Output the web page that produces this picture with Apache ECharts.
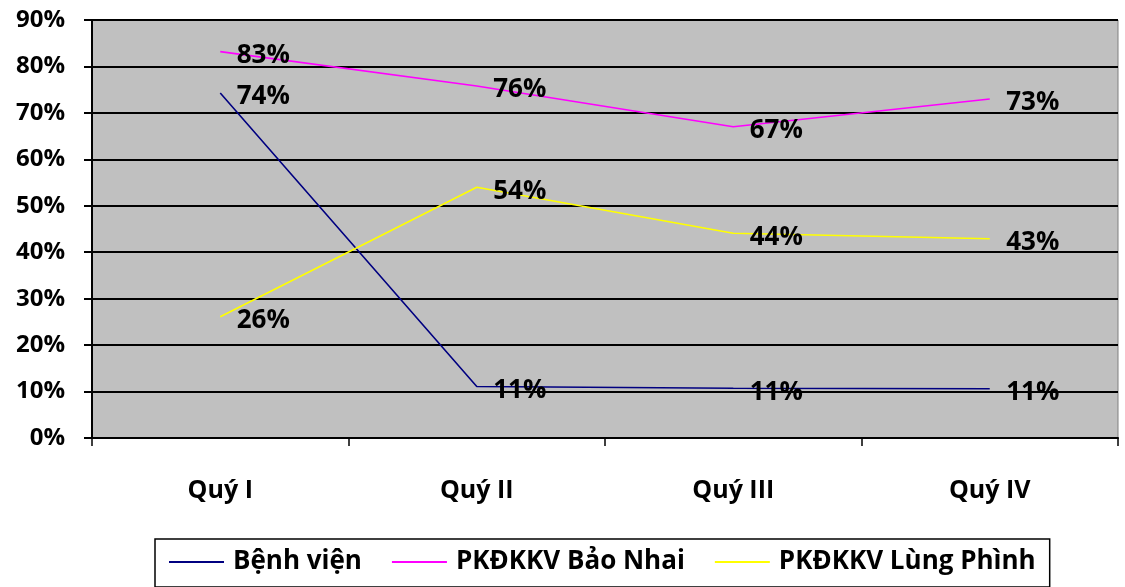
<!DOCTYPE html>
<html><head><meta charset="utf-8">
<script src="https://cdn.jsdelivr.net/npm/echarts@6/dist/echarts.min.js"></script>
<style>html,body{margin:0;padding:0;background:#fff}#c{width:1125px;height:587px}</style>
</head><body><div id="c"></div>
<script>
const categories = ['Quý I', 'Quý II', 'Quý III', 'Quý IV'];
const benhVien = [74.3, 11.1, 10.7, 10.6];
const baoNhai = [83.2, 75.8, 67.0, 73.0];
const lungPhinh = [26.1, 54.0, 44.1, 42.9];
const yTicks = [0, 10, 20, 30, 40, 50, 60, 70, 80, 90];
const names = ['Bệnh viện', 'PKĐKKV Bảo Nhai', 'PKĐKKV Lùng Phình'];
const colors = ['#000080', '#ff00ff', '#ffff00'];
const FONT = '"Open Sans", "Noto Sans", sans-serif';

const chart = echarts.init(document.getElementById('c'));
function mk(name, data, color) {
  return {
    name, type: 'line', data, symbol: 'circle', symbolSize: 1, showSymbol: true,
    lineStyle: { color, width: 1.6 }, itemStyle: { color, opacity: 0 },
    label: {
      show: true, position: 'right', offset: [11, 4],
      formatter: p => Math.round(p.value) + '%',
      fontFamily: FONT, fontWeight: 'bold', fontSize: 26, color: '#000', opacity: 1
    },
    emphasis: { disabled: true },
    animation: false
  };
}
chart.setOption({
  animation: false,
  grid: { left: 92, right: 7, top: 20, bottom: 149, show: true, backgroundColor: '#c0c0c0', borderColor: '#808080', borderWidth: 1 },
  xAxis: {
    type: 'category', data: categories, boundaryGap: true,
    axisLine: { lineStyle: { color: '#000', width: 2 } },
    axisTick: { show: true, length: 8, lineStyle: { color: '#000', width: 1.5 } },
    axisLabel: { fontFamily: FONT, fontWeight: 'bold', fontSize: 25, color: '#000', margin: 40 }
  },
  yAxis: {
    type: 'value', min: yTicks[0], max: yTicks[yTicks.length - 1], interval: 10,
    axisLine: { show: true, lineStyle: { color: '#000', width: 2 } },
    axisTick: { show: true, length: 8, lineStyle: { color: '#000', width: 2 } },
    splitLine: { show: true, lineStyle: { color: '#000', width: 2 } },
    axisLabel: { formatter: v => v + '%', fontFamily: FONT, fontWeight: 'bold', fontSize: 24, color: '#000', margin: 27, padding: [8, 0, 0, 0] }
  },
  legend: {
    bottom: 0, left: 155,
    data: names,
    icon: 'rect',
    itemWidth: 55, itemHeight: 2, itemGap: 30,
    padding: [10, 14, 12, 14],
    borderColor: '#000', borderWidth: 1.5,
    itemStyle: { opacity: 1 },
    textStyle: { fontFamily: FONT, fontWeight: 'bold', fontSize: 26, color: '#000', padding: [0, 0, 0, 4] }
  },
  series: [mk(names[0], benhVien, colors[0]), mk(names[1], baoNhai, colors[1]), mk(names[2], lungPhinh, colors[2])]
});
</script></body></html>
